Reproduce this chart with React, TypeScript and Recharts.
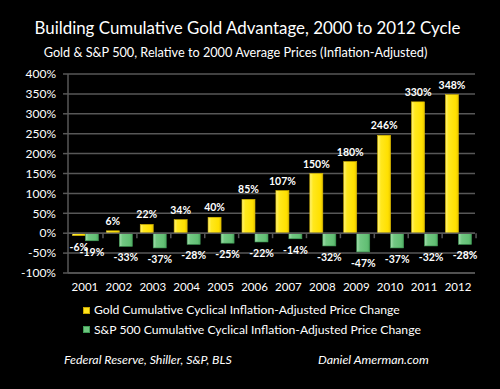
import React from 'react';
import { BarChart, Bar, XAxis, YAxis, CartesianGrid, ReferenceLine, LabelList } from 'recharts';

const years = ['2001', '2002', '2003', '2004', '2005', '2006', '2007', '2008', '2009', '2010', '2011', '2012'];
const goldValues = [-6, 6, 22, 34, 40, 85, 107, 150, 180, 246, 330, 348];
const spValues = [-19, -33, -37, -28, -25, -22, -14, -32, -47, -37, -32, -28];
const yTicks = [-100, -50, 0, 50, 100, 150, 200, 250, 300, 350, 400];

const data = years.map((year, i) => ({ year, gold: goldValues[i], sp: spValues[i] }));

const FONT = 'Lato, "Open Sans", sans-serif';
const GRID = '#575757';
const GAP_PCT = 0.13;

const GoldShape = (props: any) => {
  const { x, y, width, height } = props;
  const top = Math.min(y, y + height);
  const h = Math.abs(height);
  return <rect x={x} y={top} width={width} height={Math.max(h, 0.5)} fill="url(#goldGrad)" stroke="#d9b800" strokeWidth={0.6} />;
};

const GreenShape = (props: any) => {
  const { x, y, width, height } = props;
  const top = Math.min(y, y + height);
  const h = Math.abs(height);
  const band = (2 * width) / (1 - 2 * GAP_PCT);
  const tickX = x + width + band * GAP_PCT;
  return (
    <g>
      <rect x={x} y={top} width={width} height={h} fill="url(#greenGrad)" stroke="#3f9c55" strokeWidth={0.6} />
      <line x1={tickX} x2={tickX} y1={top} y2={top + 5} stroke={GRID} strokeWidth={1.5} />
    </g>
  );
};

const ValueLabel = (props: any) => {
  const { x, y, width, height, value } = props;
  const top = Math.min(y, y + height);
  const bottom = Math.max(y, y + height);
  const cy = value >= 0 ? top - 10 : bottom + 11;
  return (
    <text x={x + width / 2} y={cy} fill="#fff" fontSize={10.5} fontWeight={700} fontFamily={FONT} textAnchor="middle" dominantBaseline="central">
      {`${value}%`}
    </text>
  );
};

const txt = (s: React.CSSProperties): React.CSSProperties => ({
  position: 'absolute',
  whiteSpace: 'nowrap',
  color: '#fff',
  fontFamily: FONT,
  lineHeight: 1,
  ...s,
});

export default function App() {
  return (
    <div style={{ position: 'fixed', left: 0, top: 0, width: 500, height: 389, background: '#000', overflow: 'hidden' }}>
      <div style={txt({ left: 0, width: 495, top: 20, textAlign: 'center', fontSize: 16.9 })}>
        Building Cumulative Gold Advantage, 2000 to 2012 Cycle
      </div>
      <div style={txt({ left: 0, width: 471, top: 45.5, textAlign: 'center', fontSize: 12.7 })}>
        Gold &amp; S&amp;P 500, Relative to 2000 Average Prices (Inflation-Adjusted)
      </div>
      <div style={{ position: 'absolute', left: 0, top: 0 }}>
        <BarChart width={500} height={389} data={data} margin={{ top: 74, right: 25, bottom: 86, left: 8 }} barCategoryGap={`${GAP_PCT * 100}%`} barGap={0}>
          <defs>
            <linearGradient id="goldGrad" x1="0" y1="0" x2="1" y2="0">
              <stop offset="0%" stopColor="#fff37a" />
              <stop offset="25%" stopColor="#ffe81e" />
              <stop offset="80%" stopColor="#ffe000" />
              <stop offset="100%" stopColor="#e6c400" />
            </linearGradient>
            <linearGradient id="greenGrad" x1="0" y1="0" x2="1" y2="0">
              <stop offset="0%" stopColor="#a6deaf" />
              <stop offset="25%" stopColor="#72c883" />
              <stop offset="80%" stopColor="#62bf74" />
              <stop offset="100%" stopColor="#4fa862" />
            </linearGradient>
          </defs>
          <CartesianGrid vertical={false} stroke={GRID} strokeWidth={1.5} />
          <XAxis
            dataKey="year"
            axisLine={{ stroke: GRID, strokeWidth: 1.5 }}
            tickLine={false}
            tickSize={0}
            tickMargin={10}
            height={30}
            interval={0}
            tick={{ fill: '#fff', fontSize: 11.5, fontFamily: FONT }}
          />
          <YAxis
            width={60}
            domain={[-100, 400]}
            ticks={yTicks}
            interval={0}
            tickFormatter={(v: number) => `${v}%`}
            axisLine={{ stroke: GRID, strokeWidth: 1.5 }}
            tickLine={{ stroke: GRID, strokeWidth: 1.5 }}
            tickSize={5}
            tickMargin={7}
            tick={{ fill: '#fff', fontSize: 12, fontFamily: FONT }}
          />
          <ReferenceLine y={0} stroke={GRID} strokeWidth={1.5} />
          <Bar dataKey="gold" shape={GoldShape} isAnimationActive={false}>
            <LabelList dataKey="gold" content={ValueLabel} />
          </Bar>
          <Bar dataKey="sp" shape={GreenShape} isAnimationActive={false}>
            <LabelList dataKey="sp" content={ValueLabel} />
          </Bar>
        </BarChart>
      </div>
      <div style={{ position: 'absolute', left: 83, top: 307, width: 7, height: 7, background: '#ffe31c', border: '0.5px solid #c9a800', boxSizing: 'border-box' }} />
      <div style={txt({ left: 94, top: 304, fontSize: 12.2 })}>Gold Cumulative  Cyclical Inflation-Adjusted Price Change</div>
      <div style={{ position: 'absolute', left: 83, top: 326, width: 7, height: 7, background: '#6cc57e', border: '0.5px solid #3f9c55', boxSizing: 'border-box' }} />
      <div style={txt({ left: 94, top: 323.5, fontSize: 12.2 })}>S&amp;P 500 Cumulative Cyclical Inflation-Adjusted Price Change</div>
      <div style={txt({ left: 64, top: 353.5, fontSize: 12.4, fontStyle: 'italic' })}>Federal Reserve, Shiller, S&amp;P, BLS</div>
      <div style={txt({ left: 318, top: 353.5, fontSize: 12.4, fontStyle: 'italic' })}>Daniel Amerman.com</div>
    </div>
  );
}
